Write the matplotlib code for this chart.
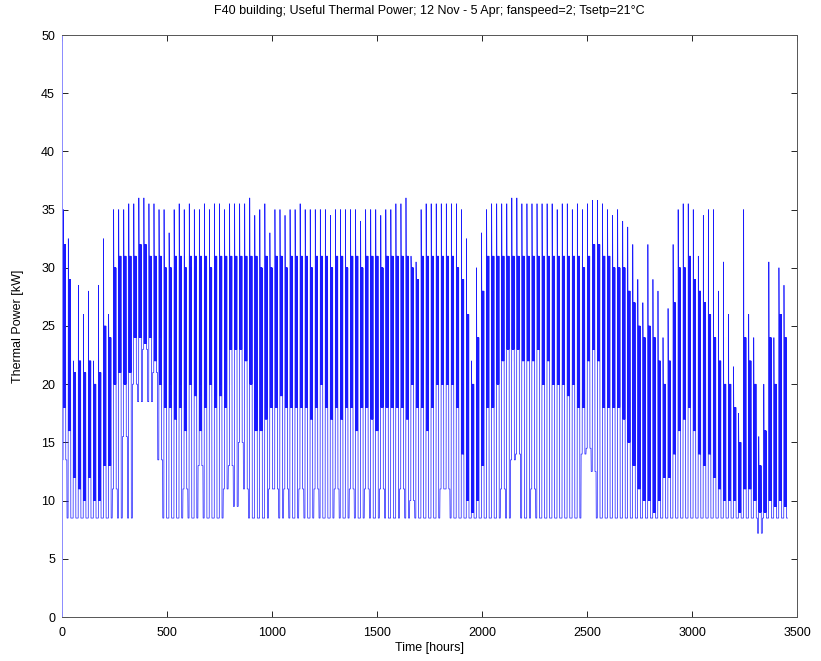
import numpy as np
import matplotlib
matplotlib.use("Agg")
import matplotlib.pyplot as plt

plt.rcParams['font.family'] = ['Liberation Sans', 'DejaVu Sans']

# Per-day readings (one entry per 24 h)
# morning peak, upper day level, lower day level, night minimum  [kW]
day_peak = [35, 32.5, 22, 28.5, 26, 28, 22, 28.5, 32.5, 26,
            35, 35, 35, 35.5, 35.5, 36, 36, 35.5, 35.5, 35,
            35, 33, 35, 35.5, 35, 35.5, 35, 35, 35.5, 35,
            35.5, 35.5, 35, 35.5, 35.5, 35.5, 35.5, 36, 34.5, 35,
            35.5, 33, 35, 35, 34.5, 35, 35, 35.5, 35, 35,
            35, 35, 35, 34.5, 35, 35, 35, 35, 35, 34,
            35, 35, 35, 34.5, 35, 35, 35.5, 35.5, 36, 31,
            30.5, 35, 35.5, 35.5, 35.5, 35.5, 35.5, 35.5, 35.5, 35,
            32.5, 22, 30, 33, 35, 35.5, 35.5, 35.5, 35.5, 36,
            36, 35.5, 35.5, 35.5, 35.5, 35.5, 35.5, 35.5, 35, 35.5,
            35.5, 35, 35.5, 35, 35.5, 35.8, 35.8, 35.5, 35, 34.5,
            35, 34, 33.5, 32, 29, 27, 32, 29, 28, 24,
            26.5, 32, 35, 35.5, 35.5, 35, 31, 34.5, 35, 35,
            28, 30.5, 26, 21.5, 17.5, 35, 26, 24, 15.5, 20,
            30.5, 24, 30, 28.5]
day_high = [32, 29, 21, 22, 21, 22, 20, 21, 25, 24,
            30, 31, 31, 31, 31, 32, 32, 31, 31, 31,
            30, 30, 31, 31, 30, 31, 31, 31, 31, 30,
            31, 31, 31, 31, 31, 31, 31, 31, 31, 30,
            31, 30, 31, 31, 30, 31, 31, 31, 31, 30,
            31, 31, 31, 30, 31, 31, 30, 31, 31, 30,
            31, 31, 31, 30, 31, 31, 31, 31, 31, 30,
            29, 31, 31, 31, 31, 31, 31, 31, 30, 29,
            26, 20, 24, 28, 31, 31, 31, 31, 31, 31,
            31, 31, 31, 31, 31, 31, 31, 31, 31, 31,
            31, 31, 31, 30, 31, 32, 32, 31, 31, 30,
            30, 30, 28, 27, 25, 24, 25, 24, 22, 20,
            22, 27, 30, 30, 31, 29, 28, 27, 26, 24,
            22, 20, 20, 18, 15, 24, 22, 20, 13, 16,
            24, 20, 26, 24]
day_low = [18, 16, 12, 11, 10, 12, 10, 10, 13, 13,
           20, 21, 20, 21, 24, 24, 23.5, 24, 22, 20,
           18, 18, 17, 18, 16, 20, 19, 16, 18, 20,
           18, 19, 18, 23, 23, 23, 22, 20, 16, 16,
           17, 18, 18, 19, 18, 18, 18, 18, 18, 17,
           18, 20, 18, 17, 18, 17, 18, 18, 16, 18,
           18, 17, 16, 18, 18, 18, 18, 18, 17, 20,
           18, 18, 16, 18, 20, 20, 20, 20, 18, 14,
           10, 9, 10, 13, 18, 18, 20, 22, 23, 23,
           23, 22, 22, 22, 23, 20, 22, 20, 20, 20,
           19, 20, 18, 18, 22, 23, 22, 18, 18, 18,
           18, 17, 15, 13, 11, 10, 10, 9, 10, 12,
           12, 14, 16, 17, 18, 16, 14, 13, 14, 12,
           11, 10, 10, 10, 9, 11, 11, 10, 9, 9,
           10, 9.5, 10, 9.5]
night_min = [13.5, 8.5, 8.5, 8.5, 8.5, 8.5, 8.5, 8.5, 8.5, 8.5,
             11, 8.5, 15.5, 8.5, 20, 18.5, 23, 18.5, 21, 13.5,
             8.5, 8.5, 8.5, 8.5, 11, 8.5, 8.5, 13, 8.5, 8.5,
             8.5, 8.5, 11, 13, 9.5, 15, 11, 8.5, 8.5, 8.5,
             8.5, 11, 11, 8.5, 11, 8.5, 8.5, 11, 8.5, 8.5,
             11, 8.5, 8.5, 8.5, 11, 8.5, 8.5, 11, 8.5, 8.5,
             11, 8.5, 8.5, 11, 8.5, 8.5, 8.5, 11, 8.5, 10,
             8.5, 8.5, 8.5, 8.5, 8.5, 11, 11, 8.5, 8.5, 8.5,
             8.5, 8.5, 8.5, 8.5, 8.5, 8.5, 8.5, 11, 8.5, 13.5,
             14, 8.5, 8.5, 11, 8.5, 8.5, 8.5, 8.5, 8.5, 8.5,
             8.5, 8.5, 8.5, 14, 14.5, 12.5, 8.5, 8.5, 8.5, 8.5,
             8.5, 8.5, 8.5, 8.5, 8.5, 8.5, 8.5, 8.5, 8.5, 8.5,
             8.5, 8.5, 8.5, 8.5, 8.5, 8.5, 8.5, 8.5, 8.5, 8.5,
             8.5, 8.5, 8.5, 8.5, 8.5, 8.5, 8.5, 8.5, 7.2, 8.5,
             8.5, 8.5, 8.5, 8.5]

title = "F40 building; Useful Thermal Power; 12 Nov - 5 Apr; fanspeed=2; Tsetp=21\u00b0C"


def day_profile(pk, hi, lo_day, night):
    # night setback, morning boost, then hourly swing between the two day levels
    prof = [night] * 6 + [pk]
    for h in range(11):
        prof.append(hi if h % 2 == 0 else lo_day)
    prof += [night] * 6
    return prof


power = []
for pk, hi, dl, nm in zip(day_peak, day_high, day_low, night_min):
    power += day_profile(pk, hi, dl, nm)
power = np.array(power)
hours = np.arange(len(power))

fig = plt.figure(figsize=(8.21, 6.61), dpi=100)
ax = fig.add_axes([62 / 821, 1 - 617 / 661, (797 - 62) / 821, (617 - 35) / 661])

ax.plot(hours, power, color=(0.1, 0.1, 1.0), lw=0.5)

ax.set_xlim(0, 3500)
ax.set_ylim(0, 50)
ax.set_xticks(np.arange(0, 3501, 500))
ax.set_yticks(np.arange(0, 51, 5))
ax.tick_params(direction='in', top=True, right=True, labelsize=9, length=4, width=0.6)
ax.tick_params(axis='x', pad=7)
ax.tick_params(axis='y', pad=5)
for s in ax.spines.values():
    s.set_linewidth(0.7)
    s.set_color('#555555')
ax.spines['left'].set_color('#8a8aff')

ax.set_xlabel("Time [hours]", fontsize=9, labelpad=2)
ax.set_ylabel("Thermal Power [kW]", fontsize=9, labelpad=12)
ax.set_title(title, fontsize=9, pad=15)

fig.savefig("out.png", dpi=100)
